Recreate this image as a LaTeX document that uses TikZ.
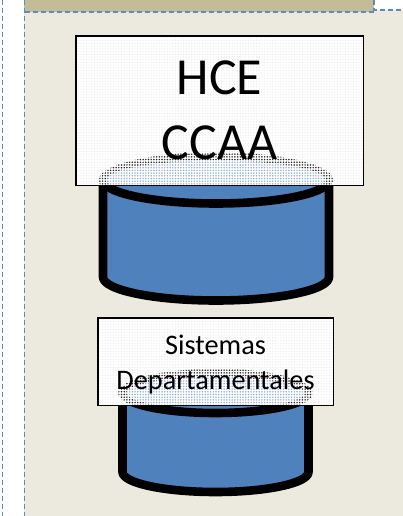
\documentclass[tikz,border=0pt]{standalone}
\usepackage{fontspec}
\setmainfont{Carlito}
\usetikzlibrary{patterns.meta}
\definecolor{panel}{HTML}{ECEADF}
\definecolor{header}{HTML}{C4BC96}
\definecolor{dashblue}{HTML}{5F8CBF}
\definecolor{dbblue}{HTML}{4F81BD}
\tikzset{
  guide/.style={draw=dashblue,line width=1.3pt,dash pattern=on 5pt off 3pt},
  cyl/.style={draw=black,line width=8.6pt,fill=dbblue,line join=round},
  veil/.style={draw=none,fill=white},
  frame/.style={draw=black,line width=1.5pt},
  faint/.style={pattern={Dots[distance=2.7pt,radius=.6pt]},pattern color=black!9},
  halfdark/.style={pattern={Dots[distance=2.7pt,radius=.85pt]},pattern color=black!85},
  halfblue/.style={pattern={Dots[distance=2.7pt,radius=.85pt]},pattern color=dbblue!60},
}
\newcommand{\cylinder}[5]{% xl, xr, ytop-centre, ry, ybottom side
  \pgfmathsetmacro{\cx}{(#1+#2)/2}
  \pgfmathsetmacro{\rx}{(#2-#1)/2}
  \draw[cyl] (#1,-#3) -- (#1,-#5) arc[start angle=180,end angle=360,x radius=\rx,y radius=#4] -- (#2,-#3);
  \draw[cyl] (\cx,-#3) ellipse[x radius=\rx,y radius=#4];
}
\newcommand{\ghost}[5]{% cx, cy, rx, ry, stroke half-width
  \fill[white] (#1,-#2) ellipse[x radius=#3+#5,y radius=#4+#5];
  \fill[halfdark] (#1,-#2) ellipse[x radius=#3+#5,y radius=#4+#5];
  \fill[white] (#1,-#2) ellipse[x radius=#3-#5,y radius=#4-#5];
  \fill[halfblue] (#1,-#2) ellipse[x radius=#3-#5,y radius=#4-#5];
}
\begin{document}
\begin{tikzpicture}[x=1pt,y=1pt]
\useasboundingbox (0,0) rectangle (403,-516);
\fill[white] (0,0) rectangle (403,-516);
\fill[panel] (24,-12) rectangle (403,-516);
\fill[panel] (374,-10) rectangle (403,-12);
\fill[header] (24,0) rectangle (374,-12);
\coordinate (a1) at (2.5,0); \coordinate (a2) at (2.5,-516);
\coordinate (b1) at (24.5,0); \coordinate (b2) at (24.5,-516);
\coordinate (c1) at (24.5,-12); \coordinate (c2) at (374,-12);
\coordinate (d1) at (374,0); \coordinate (d2) at (374,-10); \coordinate (d3) at (403,-10);
\draw[guide] (a1) -- (a2);
\draw[guide] (b1) -- (b2);
\draw[guide] (c1) -- (c2);
\draw[guide] (d1) -- (d2) -- (d3);
\cylinder{103}{329}{180}{23.5}{277}
\node[veil,minimum width=287pt,minimum height=149pt,inner sep=0pt,anchor=north west] (box1) at (76,-36) {};
\fill[faint] (box1.north west) rectangle (box1.south east);
\begin{scope}
\clip (box1.north west) rectangle (box1.south east);
\ghost{216}{180}{113}{23.5}{4.3}
\end{scope}
\draw[frame] (box1.north west) rectangle (box1.south east);
\node[font=\fontsize{52}{65}\selectfont,align=center,text=black,inner sep=0pt] (t1) at (219.5,-110) {HCE\\CCAA};
\cylinder{122.5}{308.5}{393}{20}{472}
\node[veil,minimum width=235pt,minimum height=87pt,inner sep=0pt,anchor=north west] (box2) at (98,-318) {};
\fill[faint] (box2.north west) rectangle (box2.south east);
\begin{scope}
\clip (box2.north west) rectangle (box2.south east);
\ghost{215.5}{393}{93}{20}{4.3}
\end{scope}
\draw[frame] (box2.north west) rectangle (box2.south east);
\node[font=\fontsize{28.3}{35}\selectfont,align=center,text=black,inner sep=0pt] (t2) at (215.5,-365) {Sistemas\\Departamentales};
\end{tikzpicture}
\end{document}
